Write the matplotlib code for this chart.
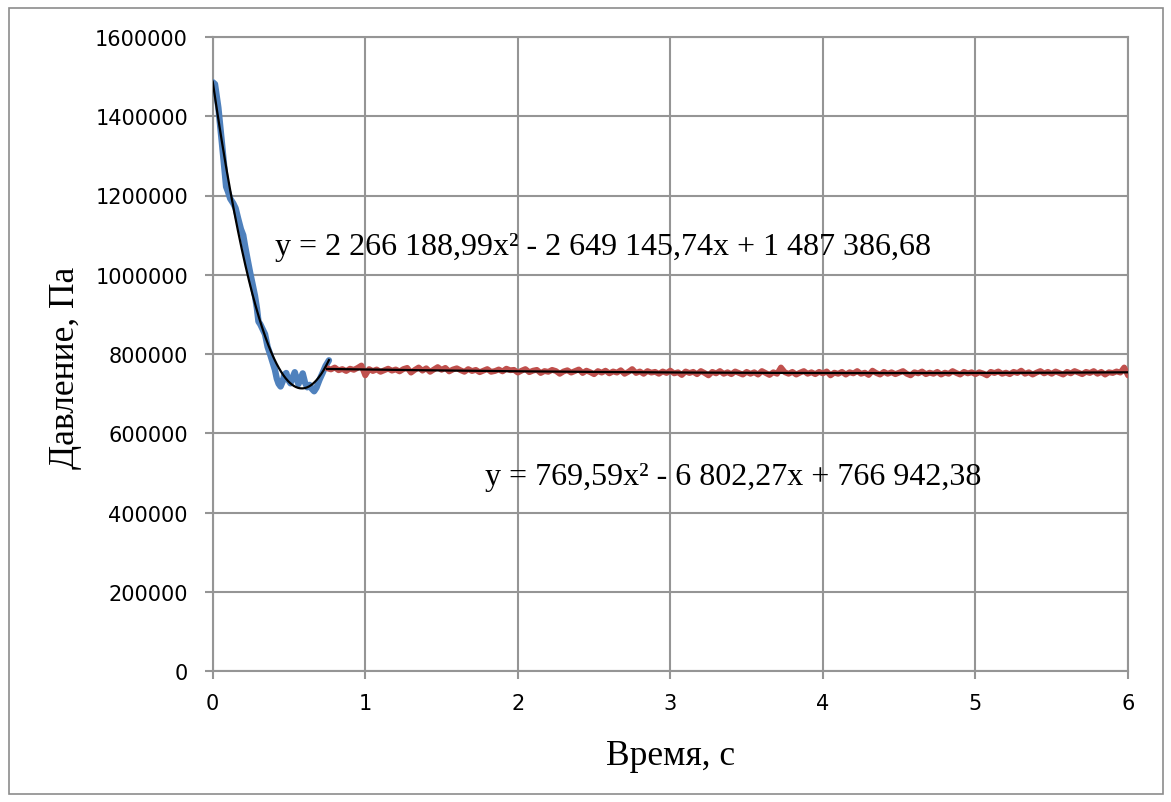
import numpy as np
import matplotlib
matplotlib.use("Agg")
import matplotlib.pyplot as plt
from matplotlib.patches import Rectangle

# --- data -------------------------------------------------------------
# initial transient (blue), time in s, pressure in Pa
t_start = [0.000, 0.015, 0.037, 0.059, 0.076, 0.088, 0.100, 0.115, 0.135, 0.150,
           0.168, 0.185, 0.200, 0.212, 0.228, 0.245, 0.262, 0.277, 0.290, 0.300,
           0.312, 0.328, 0.343, 0.360, 0.376, 0.392, 0.408, 0.420, 0.432, 0.445,
           0.458, 0.470, 0.482, 0.495, 0.510, 0.525, 0.538, 0.550, 0.562, 0.575,
           0.590, 0.605, 0.620, 0.635, 0.650, 0.665, 0.680, 0.700, 0.720, 0.740,
           0.762]
p_start = [1486000, 1481000, 1422000, 1338000, 1271000, 1222000, 1210000, 1192000, 1180000, 1168000,
           1140000, 1115000, 1100000, 1073000, 1040000, 1006000, 975000, 947000, 915000, 882000,
           875000, 862000, 850000, 818000, 800000, 780000, 760000, 738000, 725000, 718000,
           730000, 748000, 752000, 735000, 726000, 742000, 754000, 738000, 724000, 736000,
           751000, 728000, 716000, 722000, 712000, 706000, 715000, 735000, 752000, 770000,
           784000]

# steady regime (red), sampled every 0.025 s from 0.75 s to 6 s
t_steady_from, t_steady_to = 0.75, 6.0
p_steady = [
    764000, 761000, 766000, 759000, 762000, 757000, 763000, 760000, 765000, 771000,
    746000, 762000, 757000, 761000, 755000, 759000, 763000, 758000, 761000, 756000,
    762000, 765000, 753000, 760000, 766000, 758000, 764000, 755000, 761000, 767000,
    760000, 765000, 756000, 761000, 764000, 759000, 755000, 762000, 757000, 760000,
    754000, 758000, 762000, 755000, 757000, 761000, 756000, 763000, 759000, 760000,
    753000, 758000, 762000, 754000, 758000, 760000, 752000, 757000, 755000, 760000,
    757000, 750000, 756000, 759000, 753000, 757000, 761000, 752000, 758000, 754000,
    749000, 757000, 753000, 758000, 751000, 756000, 753000, 759000, 750000, 755000,
    762000, 752000, 756000, 750000, 757000, 753000, 755000, 750000, 756000, 752000,
    758000, 751000, 754000, 747000, 756000, 752000, 755000, 749000, 757000, 752000,
    746000, 755000, 751000, 757000, 750000, 754000, 749000, 756000, 752000, 748000,
    755000, 750000, 754000, 748000, 757000, 752000, 747000, 754000, 750000, 766000,
    754000, 750000, 755000, 748000, 753000, 757000, 750000, 754000, 749000, 755000,
    751000, 756000, 746000, 753000, 750000, 755000, 748000, 754000, 751000, 757000,
    750000, 753000, 747000, 758000, 752000, 748000, 755000, 750000, 754000, 749000,
    753000, 757000, 750000, 746000, 754000, 751000, 756000, 749000, 753000, 750000,
    755000, 748000, 753000, 750000, 757000, 752000, 748000, 755000, 751000, 754000,
    749000, 754000, 751000, 746000, 755000, 752000, 756000, 750000, 753000, 749000,
    755000, 752000, 758000, 750000, 754000, 748000, 753000, 757000, 751000, 755000,
    750000, 756000, 752000, 748000, 755000, 751000, 757000, 753000, 749000, 755000,
    752000, 757000, 750000, 755000, 748000, 754000, 752000, 756000, 753000, 766000,
    746000,
]
t_steady = np.linspace(t_steady_from, t_steady_to, len(p_steady))

# polynomial trend coefficients (a, b, c) for y = a*x^2 + b*x + c
trend_start = (2266188.99, -2649145.74, 1487386.68)
trend_steady = (769.59, -6802.27, 766942.38)
trend_start_range = (0.0, 0.762)
trend_steady_range = (0.75, 6.0)

label_start = "y = 2 266 188,99x² - 2 649 145,74x + 1 487 386,68"
label_steady = "y = 769,59x² - 6 802,27x + 766 942,38"

x_ticks = [0, 1, 2, 3, 4, 5, 6]
y_ticks = [0, 200000, 400000, 600000, 800000, 1000000, 1200000, 1400000, 1600000]
x_label = "Время, с"
y_label = "Давление, Па"

# --- figure -----------------------------------------------------------
W, H, DPI = 1171, 803, 100
fig = plt.figure(figsize=(W / DPI, H / DPI), dpi=DPI)
fig.patch.set_facecolor("white")


def fx(px):
    return px / W


def fy(py):
    return 1 - py / H


# outer chart frame
fig.patches.append(Rectangle((fx(9), fy(795)), fx(1163) - fx(9), fy(9) - fy(795),
                             transform=fig.transFigure, fill=False,
                             edgecolor="#8c8c8c", linewidth=1.2))

ax = fig.add_axes([fx(212.7), fy(672), fx(1128) - fx(212.7), fy(38) - fy(672)])

grid_col = "#959595"
ax.set_xlim(0, 6)
ax.set_ylim(0, 1600000)
ax.set_xticks(x_ticks)
ax.set_yticks(y_ticks)
ax.set_xticklabels([str(v) for v in x_ticks])
ax.set_yticklabels([str(v) for v in y_ticks])
ax.grid(True, color=grid_col, linewidth=1.5)
ax.set_axisbelow(True)
for s in ax.spines.values():
    s.set_color(grid_col)
    s.set_linewidth(1.5)
ax.tick_params(axis="both", direction="out", length=5.8, width=1.5, color=grid_col,
               labelsize=15, labelcolor="black")
ax.tick_params(axis="y", pad=12)
ax.tick_params(axis="x", pad=10)
for lab in ax.get_xticklabels() + ax.get_yticklabels():
    lab.set_family("DejaVu Sans")

# series
ax.plot(t_start, p_start, color="#4F81BD", linewidth=4.6, solid_capstyle="round",
        solid_joinstyle="round", zorder=3)
ax.plot(t_steady, p_steady, color="#C0504D", linewidth=4.2, solid_capstyle="round",
        solid_joinstyle="round", zorder=3)

# trend lines
for (a, b, c), (x0, x1) in ((trend_start, trend_start_range),
                             (trend_steady, trend_steady_range)):
    xs = np.linspace(x0, x1, 300)
    ax.plot(xs, a * xs ** 2 + b * xs + c, color="black", linewidth=1.6, zorder=4)

# trend equations
serif = ["Liberation Serif", "DejaVu Serif"]
fig.text(fx(275), fy(247), label_start, family=serif, fontsize=23,
         ha="left", va="center")
fig.text(fx(485), fy(478), label_steady, family=serif, fontsize=23,
         ha="left", va="center")

# axis titles
fig.text(fx(671), fy(757), x_label, family=serif, fontsize=25.5, ha="center", va="center")
fig.text(fx(65), fy(368), y_label, family=serif, fontsize=25.5, ha="center", va="center",
         rotation=90)

fig.savefig("out.png", dpi=DPI)
